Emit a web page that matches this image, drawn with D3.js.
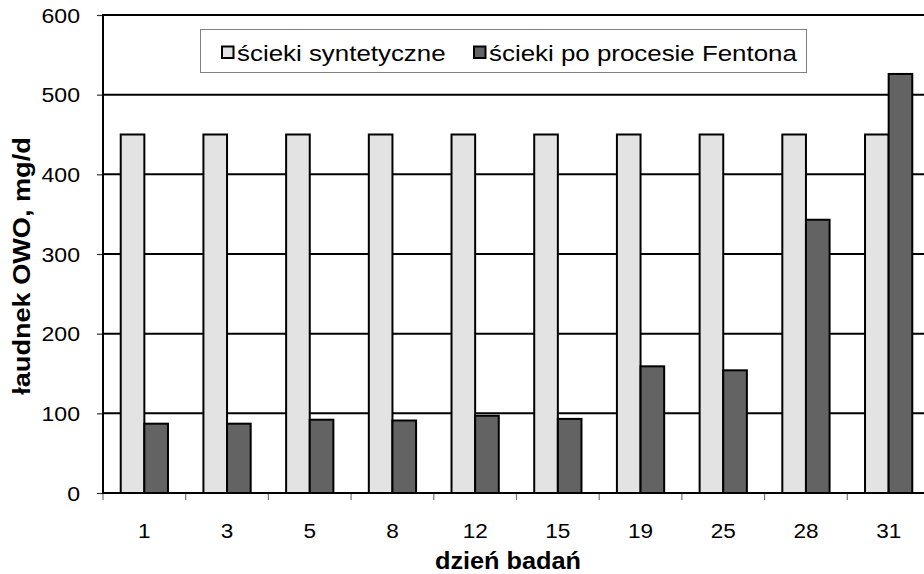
<!DOCTYPE html>
<html>
<head>
<meta charset="utf-8">
<script src="https://cdn.jsdelivr.net/npm/d3@7/dist/d3.min.js"></script>
<style>
  html, body { margin: 0; padding: 0; background: #fff; }
  svg { display: block; }
  text { font-family: "Liberation Sans", Arial, sans-serif; fill: #000; }
</style>
</head>
<body>
<svg id="chart" width="924" height="574"></svg>
<script>
const categories = ["1", "3", "5", "8", "12", "15", "19", "25", "28", "31"];
const seriesNames = ["ścieki syntetyczne", "ścieki po procesie Fentona"];
const syntheticValues = [450, 450, 450, 450, 450, 450, 450, 450, 450, 450];
const fentonValues = [87, 87, 92, 91, 97, 93, 159, 154, 343, 526];
const yTicks = [0, 100, 200, 300, 400, 500, 600];
const xTitle = "dzień badań";
const yTitle = "łaudnek OWO, mg/d";
const colors = ["#e3e3e3", "#636363"];

const svg = d3.select("#chart");
const plot = { left: 103, top: 15, right: 930, bottom: 493 };

const x = d3.scaleBand().domain(categories).range([plot.left, plot.right]).padding(0);
const xs = d3.scaleBand().domain([0, 1]).range([0, x.bandwidth()]).paddingInner(0).paddingOuter(0.75);
const y = d3.scaleLinear().domain([0, 600]).range([plot.bottom, plot.top]);

// helper for horizontally stretched text
function stretchedText(g, px, py, str, opts) {
  const grp = g.append("g").attr("transform", `translate(${px},${py}) ${opts.rotate ? "rotate(" + opts.rotate + ")" : ""} scale(${opts.sx || 1},1)`);
  grp.append("text")
    .attr("x", 0).attr("y", 0)
    .attr("text-anchor", opts.anchor || "start")
    .style("font-size", opts.size + "px")
    .style("font-weight", opts.weight || "normal")
    .text(str);
  return grp;
}

// gridlines
svg.append("g").selectAll("line").data(yTicks.filter(d => d > 0)).join("line")
  .attr("x1", plot.left).attr("x2", plot.right)
  .attr("y1", d => y(d)).attr("y2", d => y(d))
  .attr("stroke", "#000").attr("stroke-width", 2);

// y axis ticks and labels
const yAxis = d3.axisLeft(y).tickValues(yTicks).tickSize(6).tickFormat("");
const yg = svg.append("g").attr("transform", `translate(${plot.left},0)`).call(yAxis);
yg.select(".domain").remove();
yg.selectAll(".tick line").attr("stroke", "#333").attr("stroke-width", 1.2);
yTicks.forEach(t => {
  stretchedText(svg, 80, y(t) + 7.5, String(t), { size: 21, sx: 1.1, anchor: "end" });
});

// x axis ticks (band boundaries)
const boundaries = categories.map(c => x(c)).concat([plot.right]);
svg.append("g").selectAll("line").data(boundaries).join("line")
  .attr("x1", d => d).attr("x2", d => d)
  .attr("y1", plot.bottom).attr("y2", plot.bottom + 7)
  .attr("stroke", "#777").attr("stroke-width", 1.2);

categories.forEach(c => {
  stretchedText(svg, x(c) + x.bandwidth() / 2, 538, c, { size: 20.5, sx: 1.1, anchor: "middle" });
});

// bars
const series = [syntheticValues, fentonValues];
series.forEach((vals, si) => {
  svg.append("g").selectAll("rect").data(categories.map((c, i) => ({ c, v: vals[i] }))).join("rect")
    .attr("x", d => x(d.c) + xs(si))
    .attr("y", d => y(d.v))
    .attr("width", xs.bandwidth())
    .attr("height", d => y(0) - y(d.v))
    .attr("fill", colors[si])
    .attr("stroke", "#000")
    .attr("stroke-width", 2);
});

// axes lines
svg.append("line").attr("x1", plot.left).attr("x2", plot.left).attr("y1", plot.top).attr("y2", plot.bottom)
  .attr("stroke", "#000").attr("stroke-width", 2);
svg.append("line").attr("x1", plot.left - 1).attr("x2", plot.right).attr("y1", plot.bottom).attr("y2", plot.bottom)
  .attr("stroke", "#000").attr("stroke-width", 2);
svg.append("line").attr("x1", plot.left - 1).attr("x2", plot.right).attr("y1", plot.top).attr("y2", plot.top)
  .attr("stroke", "#000").attr("stroke-width", 2);

// legend
const lg = svg.append("g");
lg.append("rect").attr("x", 200.5).attr("y", 29.5).attr("width", 606).attr("height", 43)
  .attr("fill", "#fff").attr("stroke", "#808080").attr("stroke-width", 1);
const legendItems = [
  { sw: 222, tx: 237 },
  { sw: 474, tx: 489 }
];
legendItems.forEach((it, i) => {
  lg.append("rect").attr("x", it.sw).attr("y", 46.5).attr("width", 11.5).attr("height", 11.5)
    .attr("fill", colors[i]).attr("stroke", "#000").attr("stroke-width", 2);
  stretchedText(lg, it.tx, 60.5, seriesNames[i], { size: 22, sx: 1.177, anchor: "start" });
});

// axis titles
stretchedText(svg, 508, 569, xTitle, { size: 23, weight: "bold", sx: 1.1, anchor: "middle" });
stretchedText(svg, 30, 266, yTitle, { size: 24, weight: "bold", sx: 1.13, anchor: "middle", rotate: -90 });
</script>
</body>
</html>
